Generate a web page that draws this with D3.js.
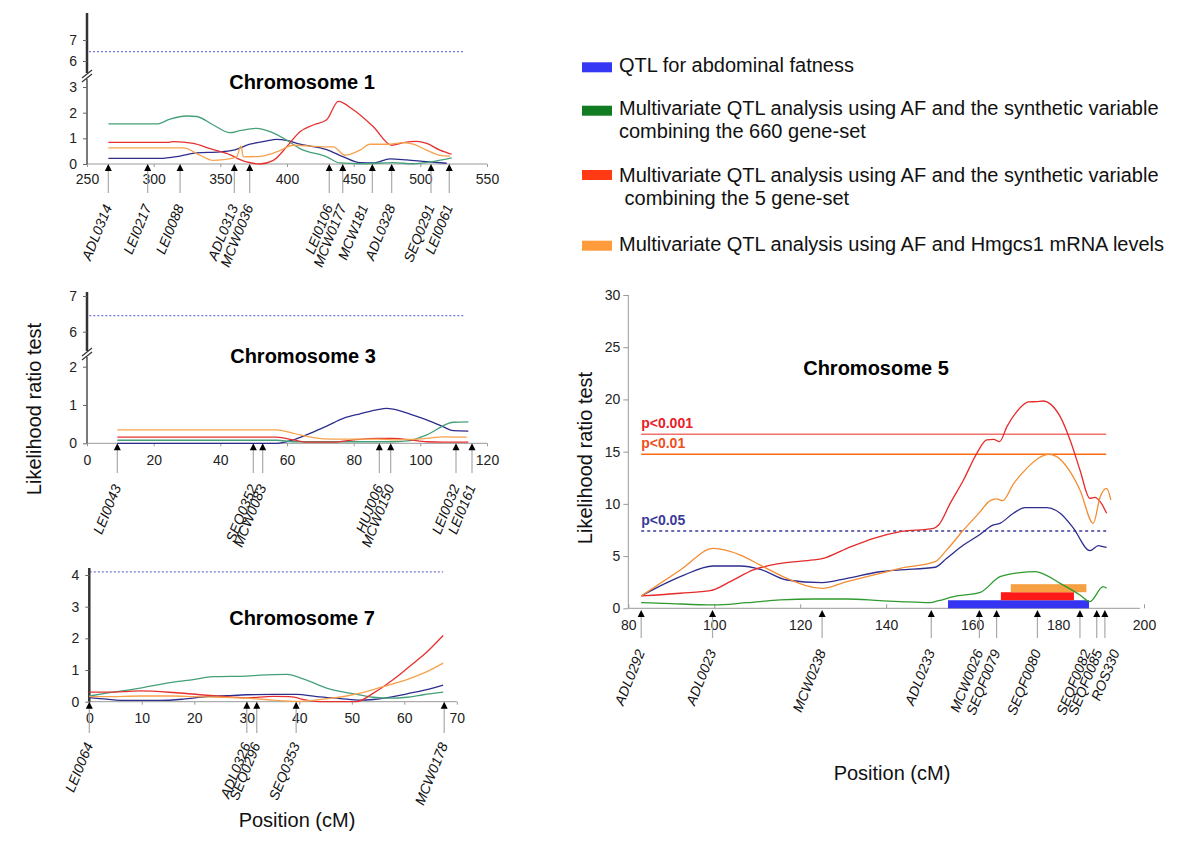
<!DOCTYPE html>
<html><head><meta charset="utf-8">
<script src="https://cdn.jsdelivr.net/npm/d3@7"></script>
<style>body{margin:0;background:#fff}text{font-family:"Liberation Sans",Arial,Helvetica,sans-serif}</style>
</head><body><svg id="c" width="1200" height="851"></svg>
<script>
// ---------------- DATA ----------------
const legendLabels = [
  ["QTL for abdominal fatness"],
  ["Multivariate QTL analysis using AF and the synthetic variable", "combining the 660 gene-set"],
  ["Multivariate QTL analysis using AF and the synthetic variable", " combining the 5 gene-set"],
  ["Multivariate QTL analysis using AF and Hmgcs1 mRNA levels"]
];
const seriesKeys = ["blue", "green", "red", "orange"];

// Chromosome 1
const chr1Blue = [[266,0.22],[304.75,0.22],[319.75,0.31],[332.25,0.43],[349.75,0.47],[359.75,0.54],[372.25,0.77],[384.75,0.90],[392.25,0.96],[399.75,0.92],[409.75,0.77],[429.75,0.56],[442.25,0.28],[454.75,0.05],[464.75,0.04],[477.25,0.20],[489.75,0.16],[504.75,0.09],[519.75,0.03]];
const chr1Green = [[266,1.56],[302.25,1.56],[312.25,1.75],[324.75,1.87],[332.25,1.85],[344.75,1.52],[357.25,1.22],[364.75,1.30],[377.25,1.39],[387.25,1.26],[399.75,0.93],[409.75,0.60],[429.75,0.28],[439.75,0.04],[454.75,0.01],[479.75,0.05],[494.75,0.01],[507.25,0.08],[523.5,0.24]];
const chr1Red = [[266,0.84],[309.75,0.84],[314.75,0.87],[329.75,0.80],[342.25,0.60],[354.75,0.41],[369.75,0.08],[379.75,0.0],[389.75,0.14],[399.75,0.67],[409.75,1.26],[419.75,1.52],[429.75,1.72],[438.5,2.44],[449.75,2.11],[464.75,1.45],[478.5,0.73],[487.25,0.83],[497.25,0.88],[504.75,0.80],[514.75,0.54],[523.5,0.38]];
const chr1Orange = [[266,0.63],[322.25,0.63],[334.75,0.34],[344.75,0.14],[352.25,0.17],[362.25,0.28],[365.5,0.70],[367.25,0.28],[379.75,0.30],[392.25,0.47],[404.75,0.73],[429.75,0.67],[434.75,0.67],[443.5,0.34],[454.75,0.54],[462.25,0.77],[477.25,0.77],[487.25,0.83],[494.75,0.77],[504.75,0.54],[514.75,0.34],[522.25,0.31]];
const chr1Markers = ["ADL0314","LEI0217","LEI0088","ADL0313","MCW0036","LEI0106","MCW0177","MCW181","ADL0328","SEQ0291","LEI0061"];
const chr1MarkerPos = [266,295.5,319.8,360.5,372,431.7,441.8,464,478.5,508,521.7];
const chr1XTicks = [250,300,350,400,450,500,550];
const chr1YTicksLow = [0,1,2,3];
const chr1YTicksHigh = [6,7];
const chr1Threshold = 6.45;

// Chromosome 3
const chr3Blue = [[9.1,0],[56.9,0],[61.9,0.09],[66.9,0.26],[71.9,0.45],[76.9,0.65],[81.9,0.77],[86.9,0.87],[89.9,0.91],[91.9,0.89],[96.9,0.76],[101.9,0.61],[106.9,0.43],[109.9,0.33],[114.4,0.32]];
const chr3Green = [[9.1,0.08],[56.9,0.08],[61.9,0.04],[91.9,0.04],[96.9,0.07],[101.9,0.22],[109.9,0.55],[114.4,0.56]];
const chr3Red = [[9.1,0.16],[56.9,0.16],[61.9,0.09],[65.9,0.03],[73.9,0.03],[79.9,0.09],[86.9,0.13],[91.9,0.13],[96.9,0.09],[101.9,0.04],[106.9,0.03],[114.4,0.03]];
const chr3Orange = [[9.1,0.35],[56.9,0.35],[61.9,0.26],[67.9,0.15],[73.9,0.11],[86.9,0.11],[91.9,0.09],[96.9,0.10],[101.9,0.13],[106.9,0.17],[113.9,0.16]];
const chr3Markers = ["LEI0043","SEQ0352","MCW0083","HUJ006","MCW0150","LEI0032","LEI0161"];
const chr3MarkerPos = [9.1,49.9,52.7,87.7,91.1,110.7,115.5];
const chr3XTicks = [0,20,40,60,80,100,120];
const chr3YTicksLow = [0,1,2];
const chr3YTicksHigh = [6,7];
const chr3Threshold = 6.45;

// Chromosome 7
const chr7Blue = [[0,0.13],[3.3,0.08],[7.1,0.04],[13.5,0.04],[17.9,0.08],[22.4,0.16],[26.2,0.19],[30,0.22],[35,0.23],[39.5,0.23],[43.3,0.16],[47.8,0.10],[51.6,0.05],[54.1,0.07],[57.9,0.16],[60.5,0.25],[64.3,0.38],[67.4,0.52]];
const chr7Green = [[0,0.18],[3.3,0.27],[9.7,0.43],[16,0.62],[19.8,0.70],[23.6,0.79],[30,0.81],[32.5,0.84],[37.6,0.86],[41.4,0.68],[45.2,0.43],[49.7,0.27],[54.1,0.14],[57.3,0.11],[60.5,0.14],[63.6,0.22],[67.4,0.30]];
const chr7Red = [[0,0.30],[3.3,0.30],[6.5,0.32],[9.7,0.34],[16,0.29],[21.1,0.22],[26.2,0.16],[30,0.12],[35,0.17],[38.2,0.16],[41.4,0.05],[44.6,0],[47.8,0],[50.9,0.0],[54.1,0.27],[57.9,0.70],[61.1,1.13],[64.3,1.57],[67.4,2.09]];
const chr7Orange = [[0,0.16],[3.3,0.16],[9.7,0.18],[16,0.18],[19.8,0.16],[24.9,0.14],[30,0.11],[35,0.05],[39.5,0.01],[44.6,0.08],[49,0.18],[52.8,0.32],[57.3,0.54],[60.5,0.70],[64.3,0.95],[67.4,1.22]];
const chr7Markers = ["LEI0064","ADL0326","SEQ0296","SEQ0353","MCW0178"];
const chr7MarkerPos = [0,30.0,31.9,39.4,67.6];
const chr7XTicks = [0,10,20,30,40,50,60,70];
const chr7YTicks = [0,1,2,3,4];
const chr7Threshold = 4.1;

// Chromosome 5
const chr5Blue = [[83,1.18],[92.1,3.03],[99.8,4.05],[106.1,4.05],[110.7,3.73],[116.9,2.71],[125.1,2.46],[130.9,2.87],[138.6,3.5],[143.3,3.67],[151.4,3.93],[154.1,4.79],[158,6.06],[161.9,7.09],[164.6,7.92],[166.5,8.14],[169.6,9.1],[172.3,9.64],[177.4,9.64],[180.5,9.1],[183.6,7.66],[187.4,5.52],[189.4,6.0],[190.2,5.94],[191.3,5.84]];
const chr5Green = [[83,0.54],[88.2,0.48],[99.8,0.32],[107.6,0.54],[115.4,0.8],[123.1,0.89],[130.9,0.89],[138.6,0.73],[143.3,0.64],[150.2,0.54],[152.2,0.73],[155.7,1.12],[161.9,1.53],[166.5,3.03],[171.2,3.42],[174.7,3.51],[175.8,3.42],[180.5,2.39],[185.1,1.28],[187.4,0.64],[190.5,2.07],[191.3,1.92]];
const chr5Red = [[83,1.18],[92.1,1.44],[99.1,1.69],[103.7,2.55],[109.1,3.67],[115.4,4.3],[123.1,4.63],[125.1,4.75],[130.9,5.74],[137.1,6.7],[143.3,7.34],[151,7.66],[152.2,7.98],[154.9,10.05],[158,12.29],[161.1,14.84],[163.4,16.12],[165,16.18],[166.4,15.96],[168.1,17.4],[170.4,18.83],[173.1,19.76],[175,19.79],[176.6,19.85],[178.1,19.6],[180.5,18.35],[182.8,16.12],[185.1,13.25],[187.4,10.53],[188.6,10.63],[189.8,10.21],[191.3,9.1]];
const chr5Orange = [[83,1.18],[92.1,3.66],[99.8,5.73],[106.1,5.1],[110.7,4.14],[116.9,2.87],[125.1,1.91],[130.9,2.55],[138.6,3.35],[143.3,3.83],[151.4,4.47],[154.1,5.59],[158,7.5],[161.9,9.26],[164.2,10.31],[165.7,10.47],[167.1,10.31],[169.6,11.9],[172.7,13.4],[175.8,14.46],[177.7,14.75],[179.7,14.52],[182.8,13.09],[185.1,11.33],[188.2,8.14],[189.8,10.69],[191.3,11.49],[192.3,10.37]];
const chr5Markers = ["ADL0292","ADL0023","MCW0238","ADL0233","MCW0026","SEQF0079","SEQF0080","SEQF0082","SEQF0085","ROS330"];
const chr5MarkerPos = [83.0,99.6,125.1,150.5,161.7,165.7,175.2,185.1,189.0,190.9];
const chr5XTicks = [80,100,120,140,160,180,200];
const chr5YTicks = [0,5,10,15,20,25,30];
const chr5Thresholds = [16.67, 14.75, 7.4];
const chr5ThresholdLabels = ["p<0.001", "p<0.01", "p<0.05"];
const chr5QtlSeries = ["blue", "red", "orange"];
const chr5QtlStart = [154.4, 166.7, 169.0];
const chr5QtlEnd = [187.2, 183.7, 186.6];

// ---------------- STYLE / LAYOUT ----------------
const lineColor = {blue:"#2d2d8e", green:"#45a07a", red:"#e63030", orange:"#f6a24c"};
const lineColor5 = {blue:"#2d2d8e", green:"#2f9a2f", red:"#e62a2a", orange:"#f38d33"};
const swatchColor = {blue:"#3636f5", green:"#127c22", red:"#ff3a14", orange:"#ff9b3a"};
const barColor = {blue:"#3434f2", red:"#ff1a1a", orange:"#f7a043"};
// hand-placed label nudges (pixels) as in the original figure
const labelNudge = {MCW181: -8, SEQF0082: 7, SEQF0085: 2, ROS330: 11};

const svg = d3.select("#c");

function xAxisDraw(g, x, axisY, ticks, labelOff, x0, x1) {
  const ax = g.append("g").attr("transform", `translate(0,${axisY})`)
    .call(d3.axisBottom(x).tickValues(ticks).tickSize(3).tickFormat(d3.format("d")));
  ax.select(".domain").remove();
  ax.append("line").attr("x1", x0).attr("x2", x1).attr("stroke", "#999").attr("stroke-width", 1);
  ax.selectAll(".tick line").attr("stroke", "#999");
  ax.selectAll(".tick text").attr("y", labelOff).attr("dy", "0.35em").attr("font-size", 14).attr("fill", "#222");
}
function yAxisDraw(g, y, x0, ticks, pad) {
  const ax = g.append("g").attr("transform", `translate(${x0},0)`)
    .call(d3.axisLeft(y).tickValues(ticks).tickSize(4).tickPadding(pad).tickFormat(d3.format("d")));
  ax.select(".domain").remove();
  ax.selectAll(".tick line").attr("stroke", "#666");
  ax.selectAll(".tick text").attr("font-size", 14).attr("fill", "#222");
}
function drawMarkers(g, x, axisY, names, pos, lineEnd, labelY) {
  const m = g.append("g").selectAll("g").data(names.map((n, i) => ({n, p: pos[i]})))
    .join("g").attr("transform", d => `translate(${x(d.p)},0)`);
  m.append("line").attr("y1", axisY + 6).attr("y2", lineEnd).attr("stroke", "#aaa").attr("stroke-width", 1.2);
  m.append("path").attr("d", `M0,${axisY}L-3.5,${axisY + 7}L3.5,${axisY + 7}Z`).attr("fill", "#000");
  m.append("text").attr("transform", d => `translate(${4 + (labelNudge[d.n] || 0)},${labelY}) rotate(-68)`)
    .attr("text-anchor", "end").attr("font-style", "italic").attr("font-size", 14).attr("fill", "#111")
    .text(d => d.n);
}
function drawLines(g, x, y, data, colors, width) {
  const line = d3.line().x(d => x(d[0])).y(d => y(d[1])).curve(d3.curveMonotoneX);
  seriesKeys.forEach((k, i) => {
    g.append("path").attr("d", line(data[i])).attr("fill", "none")
      .attr("stroke", colors[k]).attr("stroke-width", width);
  });
}
function breakMark(g, x0, yb) {
  [0, 4].forEach(o => g.append("line").attr("x1", x0 - 5).attr("y1", yb + 5 + o).attr("x2", x0 + 5).attr("y2", yb - 3 + o)
    .attr("stroke", "#333").attr("stroke-width", 1.3));
}
function title(g, cx, by, t) {
  g.append("text").attr("x", cx).attr("y", by).attr("text-anchor", "middle")
    .attr("font-size", 20).attr("font-weight", "bold").attr("fill", "#000").text(t);
}

// --------- Broken-axis panels (chr1, chr3) ---------
function brokenPanel(p) {
  const g = svg.append("g");
  const x = d3.scaleLinear().domain(p.xDomain).range(p.xRange);
  const y = d3.scaleLinear().domain([0, 1]).range([p.axisY, p.axisY - p.unitLow]);
  const yU = d3.scaleLinear().domain([6, 7]).range([p.y6, p.y7]);
  const ax0 = p.xRange[0];
  g.append("line").attr("x1", x(p.thrX[0])).attr("x2", x(p.thrX[1]))
    .attr("y1", yU(p.thr)).attr("y2", yU(p.thr)).attr("stroke", "#7a7ad8").attr("stroke-width", 1.2).attr("stroke-dasharray", "2,2");
  xAxisDraw(g, x, p.axisY, p.xTicks, p.xLabelOff, ax0, p.xRange[1]);
  g.append("line").attr("x1", ax0).attr("x2", ax0).attr("y1", p.upTop).attr("y2", p.breakY).attr("stroke", "#333").attr("stroke-width", 2.5);
  g.append("line").attr("x1", ax0).attr("x2", ax0).attr("y1", p.lowTop).attr("y2", p.axisY).attr("stroke", "#333").attr("stroke-width", 1.3);
  breakMark(g, ax0, p.breakY);
  yAxisDraw(g, y, ax0, p.yLow, 6);
  yAxisDraw(g, yU, ax0, p.yHigh, 6);
  drawLines(g, x, y, p.series, lineColor, 1.3);
  drawMarkers(g, x, p.axisY, p.markers, p.markerPos, p.lineEnd, p.labelY);
  title(g, p.titleX, p.titleY, p.title);
}

brokenPanel({xDomain:[250,550], xRange:[87,487], axisY:164, unitLow:25.67, y6:61, y7:40,
  thr:chr1Threshold, thrX:[251.5,532], xTicks:chr1XTicks, xLabelOff:15, upTop:13, breakY:73, lowTop:79,
  yLow:chr1YTicksLow, yHigh:chr1YTicksHigh, series:[chr1Blue,chr1Green,chr1Red,chr1Orange],
  markers:chr1Markers, markerPos:chr1MarkerPos, lineEnd:193, labelY:207, title:"Chromosome 1", titleX:302, titleY:89});

brokenPanel({xDomain:[0,120], xRange:[87,487], axisY:443.3, unitLow:38.3, y6:331.7, y7:296,
  thr:chr3Threshold, thrX:[0.7,112.9], xTicks:chr3XTicks, xLabelOff:17, upTop:292, breakY:351, lowTop:357,
  yLow:chr3YTicksLow, yHigh:chr3YTicksHigh, series:[chr3Blue,chr3Green,chr3Red,chr3Orange],
  markers:chr3Markers, markerPos:chr3MarkerPos, lineEnd:473, labelY:487, title:"Chromosome 3", titleX:303, titleY:363});

// --------- Chromosome 7 ---------
(function () {
  const g = svg.append("g");
  const x = d3.scaleLinear().domain([0, 70]).range([89.3, 456.8]);
  const y = d3.scaleLinear().domain([0, 4]).range([701.7, 575]);
  g.append("line").attr("x1", x(0.1)).attr("x2", x(67.4)).attr("y1", y(chr7Threshold)).attr("y2", y(chr7Threshold))
    .attr("stroke", "#7a7ad8").attr("stroke-width", 1.2).attr("stroke-dasharray", "2,2");
  xAxisDraw(g, x, 701.7, chr7XTicks, 16, 89.3, 456.8);
  g.append("line").attr("x1", 89.3).attr("x2", 89.3).attr("y1", 568).attr("y2", 701.7).attr("stroke", "#333").attr("stroke-width", 2.5);
  yAxisDraw(g, y, 89.3, chr7YTicks, 6);
  drawLines(g, x, y, [chr7Blue, chr7Green, chr7Red, chr7Orange], lineColor, 1.3);
  drawMarkers(g, x, 701.7, chr7Markers, chr7MarkerPos, 733, 745);
  title(g, 302, 625, "Chromosome 7");
})();

// --------- Chromosome 5 ---------
(function () {
  const g = svg.append("g");
  const x = d3.scaleLinear().domain([80, 200]).range([628.3, 1144]);
  const y = d3.scaleLinear().domain([0, 30]).range([608.3, 295]);
  const ax = g.append("g").attr("transform", "translate(0,608.3)")
    .call(d3.axisBottom(x).tickValues(chr5XTicks).tickSize(-4).tickFormat(d3.format("d")));
  ax.select(".domain").remove();
  ax.append("line").attr("x1", 628.3).attr("x2", 1140).attr("stroke", "#999");
  ax.selectAll(".tick line").attr("stroke", "#999");
  ax.selectAll(".tick text").attr("y", 17).attr("dy", "0.35em").attr("font-size", 14).attr("fill", "#222");
  const ay = g.append("g").attr("transform", "translate(628.3,0)")
    .call(d3.axisLeft(y).tickValues(chr5YTicks).tickSize(5).tickPadding(3));
  ay.select(".domain").remove();
  ay.append("line").attr("y1", 295).attr("y2", 608.3).attr("stroke", "#999");
  ay.selectAll(".tick line").attr("stroke", "#999");
  ay.selectAll(".tick text").attr("font-size", 14).attr("fill", "#222");
  const bandH = 0.77;
  chr5QtlSeries.forEach((k, i) => {
    g.append("rect").attr("x", x(chr5QtlStart[i])).attr("width", x(chr5QtlEnd[i]) - x(chr5QtlStart[i]))
      .attr("y", y(bandH * (i + 1))).attr("height", y(0) - y(bandH))
      .attr("fill", barColor[k]);
  });
  const thrStyle = [["#f07070", null], ["#ff6a10", null], ["#3a3a9a", "3,3"]];
  const thrText = ["#e8202a", "#f0501e", "#3a3a9a"];
  chr5Thresholds.forEach((t, i) => {
    const l = g.append("line").attr("x1", x(83)).attr("x2", x(191.2)).attr("y1", y(t)).attr("y2", y(t))
      .attr("stroke", thrStyle[i][0]).attr("stroke-width", 1.4);
    if (thrStyle[i][1]) l.attr("stroke-dasharray", thrStyle[i][1]);
    g.append("text").attr("x", x(83)).attr("y", y(t) - 6).attr("font-size", 14).attr("font-weight", "bold")
      .attr("fill", thrText[i]).text(chr5ThresholdLabels[i]);
  });
  drawLines(g, x, y, [chr5Blue, chr5Green, chr5Red, chr5Orange], lineColor5, 1.3);
  drawMarkers(g, x, 610, chr5Markers, chr5MarkerPos, 638, 652);
  title(g, 876, 375, "Chromosome 5");
})();

// --------- Axis titles ---------
svg.append("text").attr("transform", "translate(41,409) rotate(-90)").attr("text-anchor", "middle")
  .attr("font-size", 20).attr("fill", "#111").text("Likelihood ratio test");
svg.append("text").attr("transform", "translate(592,458) rotate(-90)").attr("text-anchor", "middle")
  .attr("font-size", 20).attr("fill", "#111").text("Likelihood ratio test");
svg.append("text").attr("x", 297).attr("y", 827).attr("text-anchor", "middle").attr("font-size", 20).attr("fill", "#111").text("Position (cM)");
svg.append("text").attr("x", 892).attr("y", 780).attr("text-anchor", "middle").attr("font-size", 20).attr("fill", "#111").text("Position (cM)");

// --------- Legend ---------
const legSwatchY = [67.3, 110.7, 175, 245.7];
const legBaselines = [[72], [115, 138.3], [181.7, 205], [250.7]];
const lg = svg.append("g");
seriesKeys.forEach((k, i) => {
  lg.append("rect").attr("x", 582).attr("y", legSwatchY[i] - 5).attr("width", 30).attr("height", 10).attr("fill", swatchColor[k]);
  legendLabels[i].forEach((t, j) => {
    lg.append("text").attr("x", 619).attr("y", legBaselines[i][j]).attr("font-size", 20).attr("fill", "#111")
      .attr("xml:space", "preserve").style("white-space", "pre").text(t);
  });
});
</script></body></html>
